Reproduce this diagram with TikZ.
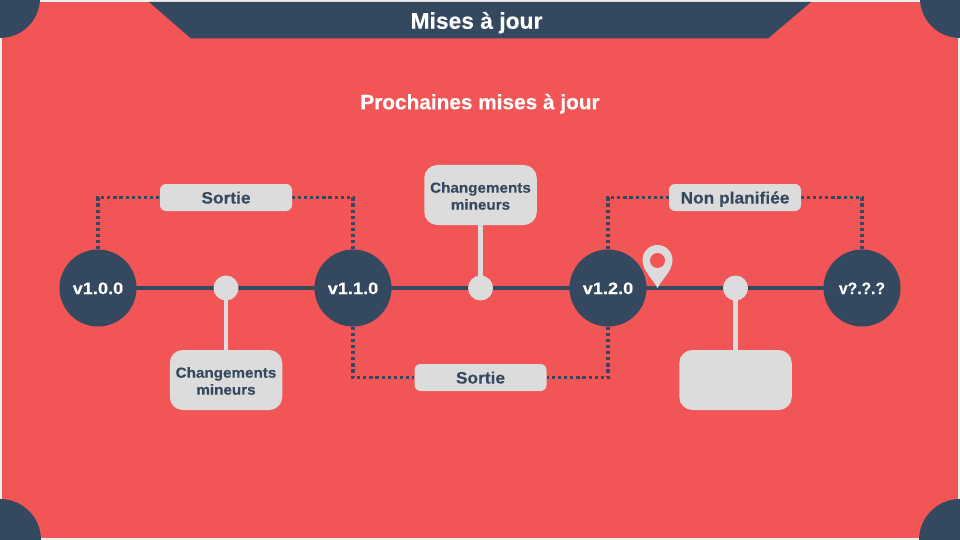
\documentclass[tikz,border=0pt]{standalone}
\usepackage{fontspec}
\setmainfont{Liberation Sans}
\newfontfamily\widebold[FakeStretch=1.1,FakeBold=0.25]{Liberation Sans Bold}
\newfontfamily\narrowbold[FakeStretch=0.95,FakeBold=0.25]{Liberation Sans Bold}
\newfontfamily\tagbold[FakeStretch=1.05,FakeBold=0.2]{Liberation Sans Bold}
\newfontfamily\headbold[FakeBold=0.25]{Liberation Sans Bold}
\pgfdeclarelayer{ground}
\pgfdeclarelayer{links}
\pgfsetlayers{ground,links,main}
\definecolor{navy}{HTML}{34495F}
\definecolor{coral}{HTML}{F25555}
\definecolor{lightg}{HTML}{DCDCDC}
\definecolor{edge}{HTML}{EFEFEF}
\tikzset{
  version/.style={circle,fill=navy,minimum size=77pt,inner sep=0pt,text=white,text height=12pt,text depth=0pt,font=\fontsize{16.5}{16}\selectfont\widebold},
  dot/.style={circle,fill=lightg,minimum size=25pt,inner sep=0pt},
  notebox/.style={rectangle,rounded corners=13pt,fill=lightg,minimum width=112.5pt,minimum height=60pt,inner sep=0pt,align=center,text=navy,font=\fontsize{14.5}{17}\selectfont\tagbold},
  tagbox/.style={rectangle,rounded corners=6pt,fill=lightg,minimum width=132pt,minimum height=27pt,inner sep=0pt,text=navy,text height=12pt,text depth=0pt,font=\fontsize{16.5}{17}\selectfont\tagbold},
  mainline/.style={navy,line width=4.5pt},
  stem/.style={lightg,line width=4.5pt},
  dotline/.style={navy,line width=3.6pt,dash pattern=on 3.2pt off 2.9pt},
  heading/.style={text=white,inner sep=0pt}
}
\begin{document}
\begin{tikzpicture}[x=1pt,y=-1pt]
\useasboundingbox (0,0) rectangle (960,540);
\begin{pgfonlayer}{ground}
\fill[edge] (0,0) rectangle (960,540);
\fill[coral] (2,2) rectangle (958,538);
\begin{scope}
\clip (0,0) rectangle (960,540);
\fill[navy] (0,-2) circle[radius=40];
\fill[navy] (960,-2) circle[radius=40];
\fill[navy] (0,540) circle[radius=41];
\fill[navy] (960,540) circle[radius=41];
\end{scope}
\fill[navy] (149,2) -- (811,2) -- (768,38.5) -- (191,38.5) -- cycle;
\end{pgfonlayer}
\node[heading,text height=16.5pt,text depth=0pt,font=\fontsize{22.8}{24}\selectfont\headbold] (title) at (476.5,20.5) {Mises à jour};
\node[heading,text height=14.5pt,text depth=0pt,font=\fontsize{20.8}{21}\selectfont\headbold] (sub) at (480,102) {Prochaines mises à jour};

\node[version] (v1) at (98,288) {v1.0.0};
\node[version] (v2) at (353,288) {v1.1.0};
\node[version] (v3) at (608,288) {v1.2.0};
\node[version,font=\fontsize{16.5}{16}\selectfont\narrowbold] (v4) at (862,288) {v?.?.?};
\node[dot] (d1) at (226,288) {};
\node[dot] (d2) at (480.5,288) {};
\node[dot] (d3) at (735.5,288) {};
\node[notebox] (n1) at (226,380) {\rule{0pt}{12.5pt}Changements\\mineurs};
\node[notebox] (n2) at (480.5,195) {\rule{0pt}{12.5pt}Changements\\mineurs};
\node[notebox] (n3) at (735.5,380) {};
\node[tagbox] (t1) at (226,197.5) {Sortie};
\node[tagbox] (t2) at (480.5,377.5) {Sortie};
\node[tagbox] (t3) at (735,197.5) {Non planifiée};

\begin{pgfonlayer}{links}
\draw[mainline] (v1.center) -- (d1.center);
\draw[mainline] (d1.center) -- (v2.center);
\draw[mainline] (v2.center) -- (d2.center);
\draw[mainline] (d2.center) -- (v3.center);
\draw[mainline] (v3.center) -- (d3.center);
\draw[mainline] (d3.center) -- (v4.center);
\draw[stem] (d1.center) -- (n1.center);
\draw[stem] (d2.center) -- (n2.center);
\draw[stem] (d3.center) -- (n3.center);
\draw[dotline] (v1.north) |- (t1.west);
\draw[dotline] (v2.north) |- (t1.east);
\draw[dotline] (v2.south) |- (t2.west);
\draw[dotline] (v3.south) |- (t2.east);
\draw[dotline] (v3.north) |- (t3.west);
\draw[dotline] (v4.north) |- (t3.east);
\end{pgfonlayer}

% location pin
\fill[lightg] (657.5,288) .. controls (653,279) and (642.5,271) .. (642.5,260)
  arc[start angle=180,end angle=360,radius=15]
  .. controls (672.5,271) and (662,279) .. (657.5,288) -- cycle;
\fill[coral] (657.5,260.5) circle[radius=7.5];
\end{tikzpicture}
\end{document}
